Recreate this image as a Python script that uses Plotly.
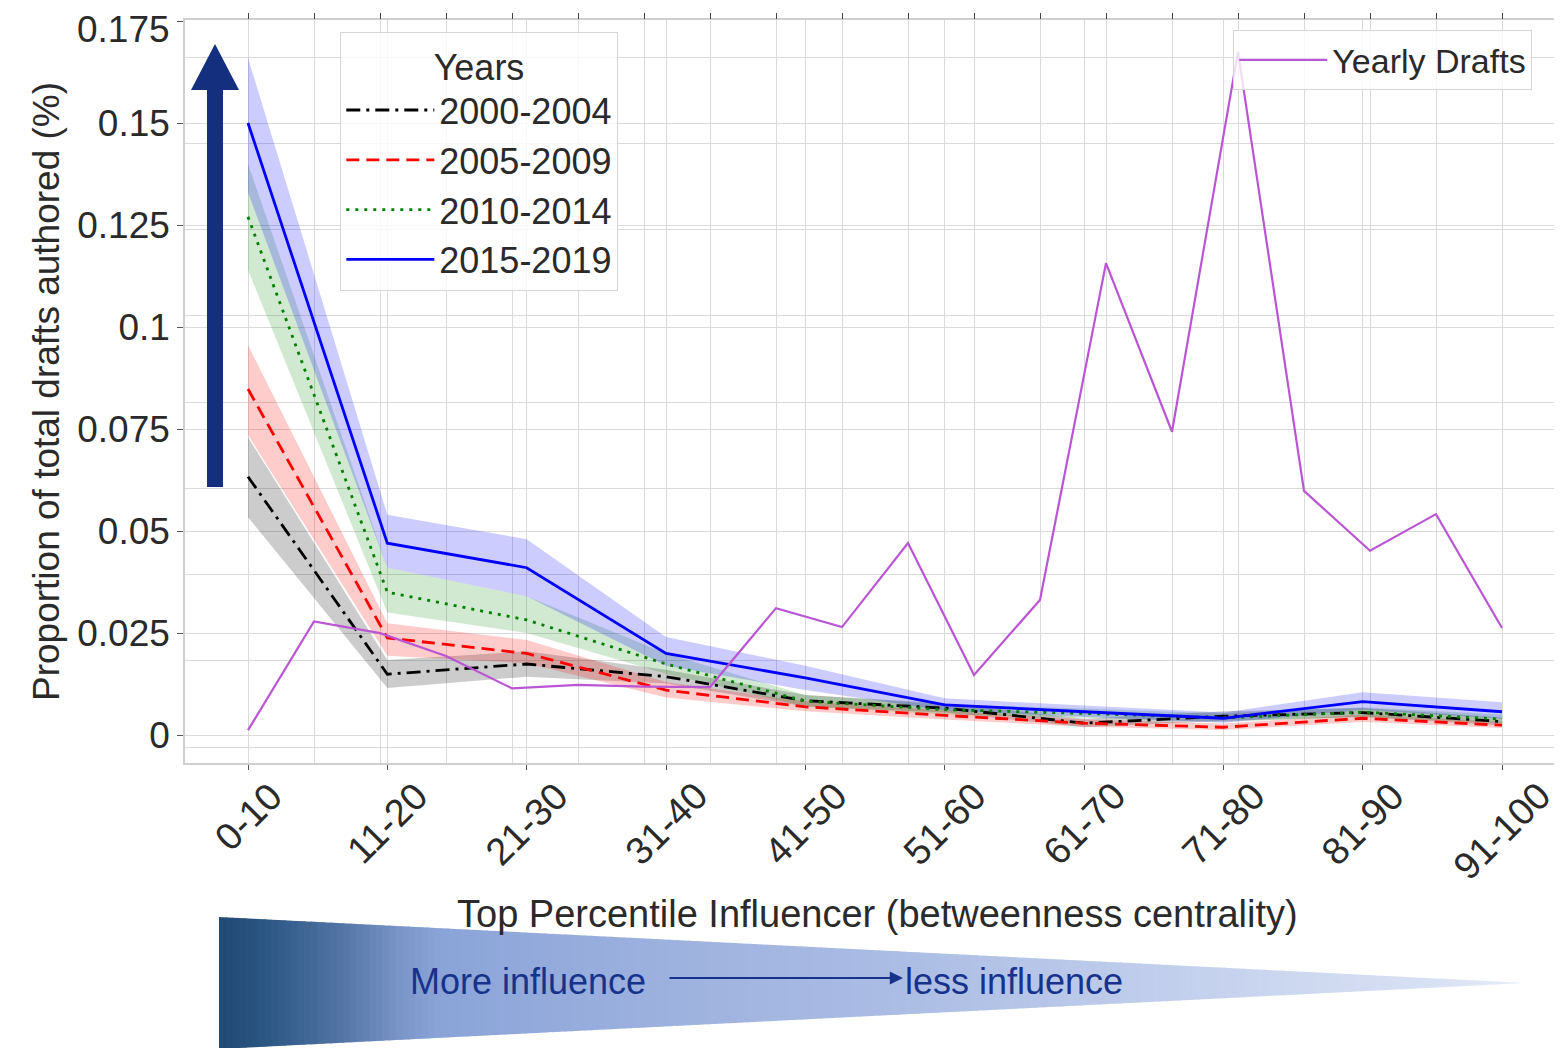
import plotly.graph_objects as go

# ---------------- data ----------------
categories = ["0-10", "11-20", "21-30", "31-40", "41-50", "51-60", "61-70", "71-80", "81-90", "91-100"]

y2000_mean = [0.0633, 0.0149, 0.0174, 0.0143, 0.0084, 0.0066, 0.0029, 0.0046, 0.0055, 0.0033]
y2000_hi = [0.0730, 0.0184, 0.0205, 0.0160, 0.0098, 0.0078, 0.0040, 0.0058, 0.0066, 0.0043]
y2000_lo = [0.0534, 0.0115, 0.0143, 0.0126, 0.0070, 0.0055, 0.0019, 0.0035, 0.0044, 0.0023]

y2005_mean = [0.0848, 0.0238, 0.0200, 0.0110, 0.0069, 0.0048, 0.0029, 0.0019, 0.0041, 0.0024]
y2005_hi = [0.0956, 0.0274, 0.0233, 0.0130, 0.0082, 0.0060, 0.0038, 0.0028, 0.0050, 0.0032]
y2005_lo = [0.0735, 0.0194, 0.0176, 0.0092, 0.0058, 0.0038, 0.0020, 0.0012, 0.0032, 0.0017]

y2010_mean = [0.1270, 0.0350, 0.0282, 0.0174, 0.0083, 0.0062, 0.0053, 0.0042, 0.0056, 0.0039]
y2010_hi = [0.1400, 0.0410, 0.0340, 0.0200, 0.0098, 0.0075, 0.0065, 0.0053, 0.0068, 0.0050]
y2010_lo = [0.1140, 0.0300, 0.0250, 0.0150, 0.0070, 0.0050, 0.0042, 0.0032, 0.0045, 0.0029]

y2015_mean = [0.1500, 0.0470, 0.0410, 0.0200, 0.0140, 0.0074, 0.0057, 0.0041, 0.0082, 0.0057]
y2015_hi = [0.1660, 0.0540, 0.0480, 0.0240, 0.0170, 0.0090, 0.0072, 0.0055, 0.0105, 0.0080]
y2015_lo = [0.1330, 0.0410, 0.0340, 0.0170, 0.0110, 0.0060, 0.0045, 0.0030, 0.0062, 0.0040]

yearly_drafts = [0.0039, 0.0291, 0.0264, 0.0211, 0.0136, 0.0144, 0.0140, 0.0139, 0.0322, 0.0278,
                 0.0473, 0.0167, 0.0341, 0.1122, 0.0731, 0.1612, 0.0594, 0.0455, 0.0540, 0.0276]

y_tickvals = [0, 0.025, 0.05, 0.075, 0.1, 0.125, 0.15, 0.175]
y_ticktext = ["0", "0.025", "0.05", "0.075", "0.1", "0.125", "0.15", "0.175"]
y2_gridvals = [0, 0.02, 0.04, 0.06, 0.08, 0.10, 0.12, 0.14, 0.16]

# ---------------- geometry helpers (page pixel coords) ----------------
PAGE_OFF = 8                      # default body margin of the html page
W, H = 1562 - PAGE_OFF, 1048 - PAGE_OFF
L, R, T, B = 185, 1562, 20, 763   # plot area in page pixels


def px(x):
    return (x - L) / (R - L)


def py(y):
    return (B - y) / (B - T)


FONT = "Liberation Sans, Arial, Helvetica, sans-serif"
TXT = "#2a2a2a"
GRID = "#dadada"

xs = list(range(len(categories)))
xs2 = list(range(len(yearly_drafts)))

fig = go.Figure()

series = [
    ("2000-2004", y2000_mean, y2000_lo, y2000_hi, "#000000", "rgba(0,0,0,0.2)", "14px,6px,3px,6px"),
    ("2005-2009", y2005_mean, y2005_lo, y2005_hi, "#ff0000", "rgba(255,0,0,0.2)", "13px,7px"),
    ("2010-2014", y2010_mean, y2010_lo, y2010_hi, "#008000", "rgba(0,128,0,0.18)", "3px,6px"),
    ("2015-2019", y2015_mean, y2015_lo, y2015_hi, "#0000ff", "rgba(0,0,255,0.2)", "solid"),
]

for name, m, lo, hi, c, fc, dash in series:
    fig.add_trace(go.Scatter(x=xs, y=hi, mode="lines", line=dict(width=0, color=c),
                             hoverinfo="skip", showlegend=False))
    fig.add_trace(go.Scatter(x=xs, y=lo, mode="lines", line=dict(width=0, color=c),
                             fill="tonexty", fillcolor=fc, hoverinfo="skip", showlegend=False))

for name, m, lo, hi, c, fc, dash in series:
    fig.add_trace(go.Scatter(x=xs, y=m, mode="lines", name=name,
                             line=dict(color=c, width=2.8, dash=dash), legend="legend"))

fig.add_trace(go.Scatter(x=xs2, y=yearly_drafts, mode="lines", name="Yearly Drafts",
                         line=dict(color="#BA55D3", width=2.2), xaxis="x2", yaxis="y2",
                         legend="legend2"))

# the top tick label sits at the very edge of the page; it is drawn as an
# annotation just inside the page so it is not clipped
axis_ticktext = [t if v != y_tickvals[-1] else "" for v, t in zip(y_tickvals, y_ticktext)]

# ---------------- axes ----------------
fig.update_layout(
    width=W, height=H,
    margin=dict(l=L - PAGE_OFF, r=0, t=T - PAGE_OFF, b=1048 - B, autoexpand=False),
    paper_bgcolor="white", plot_bgcolor="white",
    font=dict(family=FONT, size=34, color=TXT),
    xaxis=dict(range=[(L - 248) / 139.333, (R - 248) / 139.333], tickvals=xs, showticklabels=False,
               showgrid=True, gridcolor=GRID, gridwidth=1.4, zeroline=False,
               showline=True, linecolor="#cfcfcf", linewidth=1.5, mirror=True,
               ticks="outside", ticklen=5, tickcolor="#555", tickwidth=1.2),
    yaxis=dict(range=[(B - 735) / -4080.0, (735 - T) / 4080.0], tickvals=y_tickvals, ticktext=axis_ticktext,
               showgrid=True, gridcolor=GRID, gridwidth=1.4, zeroline=False,
               showline=True, linecolor="#cfcfcf", linewidth=1.5, mirror=True,
               ticks="outside", ticklen=6, tickcolor="#555", tickwidth=1.2,
               tickfont=dict(size=37, color=TXT)),
    xaxis2=dict(overlaying="x", side="top", anchor="y2",
                range=[(L - 248) / 66.0, (R - 248) / 66.0], tickvals=xs2, showticklabels=False,
                showgrid=True, gridcolor=GRID, gridwidth=1.4, zeroline=False,
                ticks="outside", ticklen=6, tickcolor="#444", tickwidth=1.2),
    yaxis2=dict(overlaying="y", side="right", anchor="x2",
                range=[(B - 747) / -4312.5, (747 - T) / 4312.5], tickvals=y2_gridvals,
                showticklabels=False, showgrid=True, gridcolor=GRID, gridwidth=1.4,
                zeroline=False, ticks=""),
    legend=dict(x=px(340), y=py(32), xanchor="left", yanchor="top", traceorder="normal",
                bgcolor="rgba(255,255,255,0.8)", bordercolor="#d6d6d6", borderwidth=1.3,
                font=dict(size=36, color=TXT), itemwidth=88,
                title=dict(text="Years", side="top center", font=dict(size=36, color=TXT))),
    legend2=dict(x=px(1233), y=py(30), xanchor="left", yanchor="top",
                 bgcolor="rgba(255,255,255,0.8)", bordercolor="#d6d6d6", borderwidth=1.3,
                 font=dict(size=34, color=TXT), itemwidth=88),
    showlegend=True,
)

annotations = []
# top y tick label
annotations.append(dict(x=px(171), y=py(8.5), xref="paper", yref="paper", text=y_ticktext[-1],
                        showarrow=False, xanchor="right", yanchor="top", borderpad=0,
                        font=dict(size=37, color=TXT, family=FONT)))
# rotated category labels
for i, lab in enumerate(categories):
    annotations.append(dict(x=i, xref="x", y=py(772), yref="paper", text=lab, showarrow=False,
                            textangle=-45, xanchor="center", yanchor="top",
                            font=dict(size=38, color=TXT, family=FONT)))
# axis titles
annotations.append(dict(x=px(877), y=py(914), xref="paper", yref="paper",
                        text="Top Percentile Influencer (betweenness centrality)", showarrow=False,
                        xanchor="center", yanchor="middle", font=dict(size=38, color=TXT, family=FONT)))
annotations.append(dict(x=px(47), y=py(392), xref="paper", yref="paper",
                        text="Proportion of total drafts authored (%)", showarrow=False, textangle=-90,
                        xanchor="center", yanchor="middle", font=dict(size=37, color=TXT, family=FONT)))
# influence texts
NAVY = "#17328a"
annotations.append(dict(x=px(408), y=py(981), xref="paper", yref="paper", text="More influence",
                        showarrow=False, xanchor="left", yanchor="middle",
                        font=dict(size=36, color=NAVY, family=FONT)))
annotations.append(dict(x=px(903), y=py(981), xref="paper", yref="paper", text="less influence",
                        showarrow=False, xanchor="left", yanchor="middle",
                        font=dict(size=36, color=NAVY, family=FONT)))
annotations.append(dict(x=px(903), y=py(978), xref="paper", yref="paper", text="",
                        showarrow=True, ax=-235, ay=0, arrowhead=2, arrowsize=1.2,
                        arrowwidth=2.2, arrowcolor=NAVY))
fig.update_layout(annotations=annotations)

# ---------------- decorative shapes ----------------
shapes = []
# big upward arrow
ARROW = "#142f7e"
path = "M {} {} L {} {} L {} {} L {} {} L {} {} L {} {} L {} {} Z".format(
    px(207), py(487), px(223), py(487), px(223), py(90), px(239), py(90),
    px(215), py(44), px(191), py(90), px(207), py(90))
shapes.append(dict(type="path", path=path, xref="paper", yref="paper",
                   fillcolor=ARROW, line=dict(width=0), layer="above"))

# gradient triangle
stops = [(219, (31, 74, 115)), (270, (46, 88, 133)), (340, (82, 116, 164)), (400, (122, 149, 200)),
         (440, (139, 164, 216)), (680, (158, 178, 223)), (900, (171, 189, 228)), (1100, (188, 202, 234)),
         (1300, (205, 216, 240)), (1450, (218, 226, 244)), (1525, (232, 237, 248))]


def col_at(x):
    for (x0, c0), (x1, c1) in zip(stops[:-1], stops[1:]):
        if x0 <= x <= x1:
            t = (x - x0) / (x1 - x0)
            return "rgb({},{},{})".format(*[round(a + (b - a) * t) for a, b in zip(c0, c1)])
    return "rgb({},{},{})".format(*stops[-1][1])


TX0, TX1, TYC, HALF = 219, 1525, 983, 66
N = 200
step = (TX1 - TX0) / N
for k in range(N):
    xa = TX0 + k * step
    xb = min(TX1, xa + step + 1.0)
    ha = HALF * (TX1 - xa) / (TX1 - TX0)
    hb = HALF * (TX1 - xb) / (TX1 - TX0)
    p = "M {} {} L {} {} L {} {} L {} {} Z".format(px(xa), py(TYC - ha), px(xb), py(TYC - hb),
                                                   px(xb), py(TYC + hb), px(xa), py(TYC + ha))
    shapes.append(dict(type="path", path=p, xref="paper", yref="paper",
                       fillcolor=col_at(xa + step / 2), line=dict(width=0), layer="below"))
fig.update_layout(shapes=shapes)

fig.write_html("out.html")
